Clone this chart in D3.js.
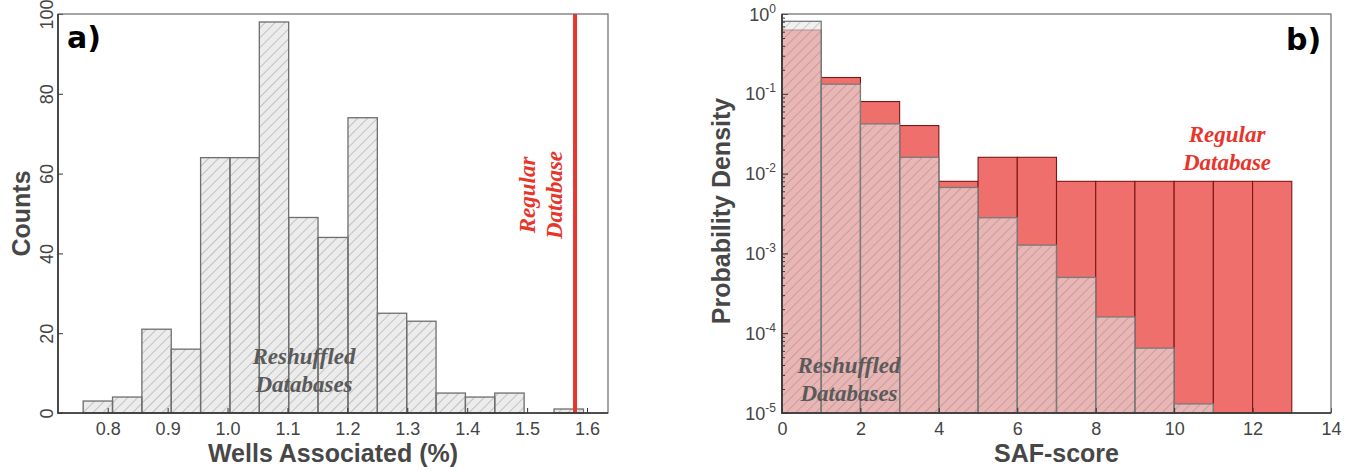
<!DOCTYPE html>
<html>
<head>
<meta charset="utf-8">
<script src="https://cdn.jsdelivr.net/npm/d3@7"></script>
<style>
  body { margin: 0; background: #fff; }
  .tick text { font-family: "Liberation Sans", Arial, sans-serif; font-size: 18px; fill: #444; }
  .axisTitle { font-family: "Liberation Sans", Arial, sans-serif; font-size: 25px; font-weight: bold; fill: #474747; }
  .panelTag { font-family: "DejaVu Sans", sans-serif; font-size: 30px; font-weight: bold; fill: #000; }
  .note { font-family: "Liberation Serif", "Times New Roman", serif; font-size: 23px; font-weight: bold; font-style: italic; }
</style>
</head>
<body>
<div id="chart"></div>
<script>
// panel a) counts of wells associated for the reshuffled databases
const countBinEdges = [0.759, 0.808, 0.857, 0.906, 0.955, 1.004, 1.053, 1.102, 1.151,
  1.201, 1.250, 1.299, 1.348, 1.397, 1.446, 1.495, 1.545, 1.594];
const reshuffledCounts = [3, 4, 21, 16, 64, 64, 98, 49, 44, 74, 25, 23, 5, 4, 5, 0, 1];
const regularWells = 1.58;
const wellsTicks = [0.8, 0.9, 1.0, 1.1, 1.2, 1.3, 1.4, 1.5, 1.6];
const countTicks = [0, 20, 40, 60, 80, 100];

// panel b) SAF-score probability density
const safBinEdges = [0, 1, 2, 3, 4, 5, 6, 7, 8, 9, 10, 11, 12, 13];
const regularDensity = [0.63, 0.16, 0.08, 0.04, 0.008, 0.016, 0.016, 0.008, 0.008, 0.008, 0.008, 0.008, 0.008];
const reshuffledDensity = [0.81, 0.132, 0.042, 0.016, 0.0067, 0.0028, 0.00127, 0.0005, 0.00016, 0.000065, 0.000013, null, null];
const safTicks = [0, 2, 4, 6, 8, 10, 12, 14];
const densityTicks = [1e-5, 1e-4, 1e-3, 1e-2, 1e-1, 1];

const svg = d3.select("#chart").append("svg")
  .attr("width", 1354)
  .attr("height", 470);

// diagonal hatch patterns
const defs = svg.append("defs");
function hatch(id, color, opacity) {
  defs.append("pattern")
    .attr("id", id)
    .attr("patternUnits", "userSpaceOnUse")
    .attr("width", 7)
    .attr("height", 7)
    .attr("patternTransform", "rotate(45)")
    .append("line")
    .attr("x1", 0).attr("y1", 0).attr("x2", 0).attr("y2", 7)
    .attr("stroke", color)
    .attr("stroke-opacity", opacity)
    .attr("stroke-width", 0.9);
}
hatch("hatchA", "#8c8c8c", 1);
hatch("hatchB", "#555", 0.55);

function styleAxis(g) {
  g.select(".domain").remove();
  g.selectAll(".tick line").attr("stroke", "#333");
}

// ---------- panel a ----------
{
  const left = 58, right = 608, top = 14, bottom = 413;
  const x = d3.scaleLinear().domain([0.717, 1.635]).range([left, right]);
  const y = d3.scaleLinear().domain([0, 100]).range([bottom, top]);
  const g = svg.append("g");

  const bins = reshuffledCounts.map((c, i) => ({ x0: countBinEdges[i], x1: countBinEdges[i + 1], c }));

  const bars = g.selectAll(".barA").data(bins.filter(d => d.c > 0)).enter();
  bars.append("rect")
    .attr("x", d => x(d.x0)).attr("width", d => x(d.x1) - x(d.x0))
    .attr("y", d => y(d.c)).attr("height", d => y(0) - y(d.c))
    .attr("fill", "#ececec");
  bars.append("rect")
    .attr("x", d => x(d.x0)).attr("width", d => x(d.x1) - x(d.x0))
    .attr("y", d => y(d.c)).attr("height", d => y(0) - y(d.c))
    .attr("fill", "url(#hatchA)")
    .attr("stroke", "#6e6e6e")
    .attr("stroke-width", 1.3);

  // regular database line
  g.append("line")
    .attr("x1", x(regularWells)).attr("x2", x(regularWells))
    .attr("y1", top).attr("y2", bottom)
    .attr("stroke", "#e8352b")
    .attr("stroke-width", 4);

  g.append("g")
    .attr("transform", "translate(0," + bottom + ")")
    .call(d3.axisBottom(x).tickValues(wellsTicks).tickFormat(d3.format(".1f")).tickSizeInner(-5).tickPadding(9))
    .call(styleAxis);

  const yAx = g.append("g")
    .attr("transform", "translate(" + left + ",0)")
    .call(d3.axisLeft(y).tickValues(countTicks).tickSizeInner(-5).tickPadding(0))
    .call(styleAxis);
  yAx.selectAll(".tick text")
    .attr("text-anchor", "middle")
    .attr("x", 0).attr("dy", 0)
    .attr("transform", "translate(-5,0) rotate(-90)");

  g.append("rect")
    .attr("x", left).attr("y", top)
    .attr("width", right - left).attr("height", bottom - top)
    .attr("fill", "none").attr("stroke", "#6a6a6a").attr("stroke-width", 1.2);
  g.append("path")
    .attr("d", d3.line()([[left, top], [left, bottom], [right, bottom]]))
    .attr("fill", "none").attr("stroke", "#333").attr("stroke-width", 1.6);

  g.append("text").attr("class", "axisTitle")
    .attr("text-anchor", "middle")
    .attr("x", (left + right) / 2).attr("y", 462)
    .text("Wells Associated (%)");
  g.append("text").attr("class", "axisTitle")
    .attr("text-anchor", "middle")
    .attr("transform", "translate(30," + (top + bottom) / 2 + ") rotate(-90)")
    .text("Counts");

  g.append("text").attr("class", "panelTag")
    .attr("x", 67).attr("y", 48).text("a)");

  const note = g.append("text").attr("class", "note")
    .attr("fill", "#5a5a5a").attr("text-anchor", "middle");
  note.append("tspan").attr("x", 304).attr("y", 364).text("Reshuffled");
  note.append("tspan").attr("x", 304).attr("y", 392).text("Databases");

  const red = g.append("text").attr("class", "note")
    .attr("fill", "#e8352b").attr("text-anchor", "middle")
    .attr("transform", "translate(0,195) rotate(-90)");
  red.append("tspan").attr("x", 0).attr("y", 535).text("Regular");
  red.append("tspan").attr("x", 0).attr("y", 562).text("Database");
}

// ---------- panel b ----------
{
  const left = 782, right = 1331, top = 14, bottom = 413;
  const x = d3.scaleLinear().domain([0, 14]).range([left, right]);
  const y = d3.scaleLog().domain([1e-5, 1]).range([bottom, top]);
  const g = svg.append("g");

  const regBins = regularDensity.map((v, i) => ({ x0: safBinEdges[i], x1: safBinEdges[i] + 1, v }));
  const shufBins = reshuffledDensity.map((v, i) => ({ x0: safBinEdges[i], x1: safBinEdges[i] + 1, v }))
    .filter(d => d.v !== null);

  g.selectAll(".reg").data(regBins).enter().append("rect")
    .attr("x", d => x(d.x0)).attr("width", d => x(d.x1) - x(d.x0))
    .attr("y", d => y(d.v)).attr("height", d => bottom - y(d.v))
    .attr("fill", "#ee6f6b")
    .attr("stroke", "#7e1616")
    .attr("stroke-width", 1.1);

  const sb = g.selectAll(".shuf").data(shufBins).enter();
  sb.append("rect")
    .attr("x", d => x(d.x0)).attr("width", d => x(d.x1) - x(d.x0))
    .attr("y", d => y(d.v)).attr("height", d => bottom - y(d.v))
    .attr("fill", "#e6e6e6").attr("fill-opacity", 0.6);
  sb.append("rect")
    .attr("x", d => x(d.x0)).attr("width", d => x(d.x1) - x(d.x0))
    .attr("y", d => y(d.v)).attr("height", d => bottom - y(d.v))
    .attr("fill", "url(#hatchB)")
    .attr("stroke", "#7a7a7a")
    .attr("stroke-width", 1.3);

  g.append("g")
    .attr("transform", "translate(0," + bottom + ")")
    .call(d3.axisBottom(x).tickValues(safTicks).tickSizeInner(-5).tickPadding(9))
    .call(styleAxis);

  // minor log ticks
  const minor = [];
  for (let e = -5; e < 0; e++) for (let m = 2; m <= 9; m++) minor.push(m * Math.pow(10, e));
  g.append("g")
    .attr("transform", "translate(" + left + ",0)")
    .call(d3.axisLeft(y).tickValues(minor).tickFormat("").tickSizeInner(-3))
    .call(styleAxis);

  const yAx = g.append("g")
    .attr("transform", "translate(" + left + ",0)")
    .call(d3.axisLeft(y).tickValues(densityTicks).tickFormat("").tickSizeInner(-6))
    .call(styleAxis);
  yAx.selectAll(".tick").each(function (d) {
    const t = d3.select(this).append("text")
      .attr("text-anchor", "end")
      .attr("x", -6).attr("y", 6);
    t.append("tspan").text("10");
    t.append("tspan")
      .attr("dy", -8)
      .style("font-size", "12px")
      .text(Math.round(Math.log10(d)) === 0 ? "0" : "-" + Math.abs(Math.round(Math.log10(d))));
  });

  g.append("rect")
    .attr("x", left).attr("y", top)
    .attr("width", right - left).attr("height", bottom - top)
    .attr("fill", "none").attr("stroke", "#6a6a6a").attr("stroke-width", 1.2);
  g.append("path")
    .attr("d", d3.line()([[left, top], [left, bottom], [right, bottom]]))
    .attr("fill", "none").attr("stroke", "#333").attr("stroke-width", 1.6);

  g.append("text").attr("class", "axisTitle")
    .attr("text-anchor", "middle")
    .attr("x", (left + right) / 2).attr("y", 462)
    .text("SAF-score");
  g.append("text").attr("class", "axisTitle")
    .attr("text-anchor", "middle")
    .attr("transform", "translate(730,211) rotate(-90)")
    .text("Probability Density");

  g.append("text").attr("class", "panelTag")
    .attr("x", 1286).attr("y", 50).text("b)");

  const note = g.append("text").attr("class", "note")
    .attr("fill", "#5a5a5a").attr("text-anchor", "middle");
  note.append("tspan").attr("x", 849).attr("y", 373).text("Reshuffled");
  note.append("tspan").attr("x", 849).attr("y", 401).text("Databases");

  const red = g.append("text").attr("class", "note")
    .attr("fill", "#e8352b").attr("text-anchor", "middle");
  red.append("tspan").attr("x", 1227).attr("y", 142).text("Regular");
  red.append("tspan").attr("x", 1227).attr("y", 170).text("Database");
}
</script>
</body>
</html>
